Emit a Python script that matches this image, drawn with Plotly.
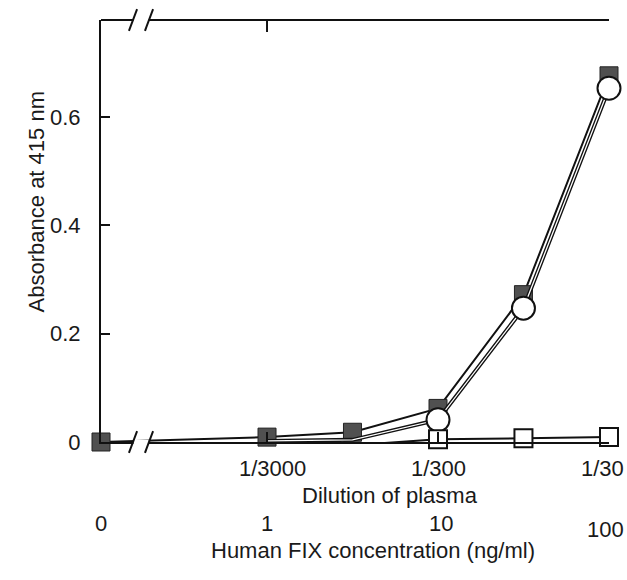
import numpy as np
import plotly.graph_objects as go

# ---- data ----
ZERO_LOG = -0.971                 # log10 position where the "0" concentration is drawn (axis break)
ZERO_POS = 10 ** ZERO_LOG
conc_filled = [0, 1, 3.16, 10, 31.6, 100]
abs_filled = [0.0, 0.009, 0.018, 0.062, 0.272, 0.676]
conc_circle = [1, 3.16, 10, 31.6, 100]
abs_circle = [0.002, 0.004, 0.041, 0.247, 0.653]
conc_open = [1, 3.16, 10, 31.6, 100]
abs_open = [-0.005, -0.006, 0.005, 0.007, 0.009]
conc_ticks = [0, 1, 10, 100]
conc_labels = ["0", "1", "10", "100"]
dil_ticks = [1, 10, 100]
dil_labels = ["1/3000", "1/300", "1/30"]
y_ticks = [0, 0.2, 0.4, 0.6]
y_labels = ["0", "0.2", "0.4", "0.6"]


def xpos(c):
    return ZERO_POS if c == 0 else c


FONT = "Liberation Sans, Arial, sans-serif"
FS = 22
TXT = "#1a1a1a"
INK = "#111"

fig = go.Figure()
# filled squares
fig.add_trace(go.Scatter(
    x=[xpos(c) for c in conc_filled], y=abs_filled, mode="lines+markers",
    line=dict(color=INK, width=2),
    marker=dict(symbol="square", size=18, color="#505050", line=dict(color="#222", width=1)),
    cliponaxis=False, showlegend=False, hoverinfo="skip"))
# circles: double line then markers
fig.add_trace(go.Scatter(
    x=conc_circle, y=abs_circle, mode="lines",
    line=dict(color=INK, width=4), cliponaxis=False, showlegend=False, hoverinfo="skip"))
fig.add_trace(go.Scatter(
    x=conc_circle, y=abs_circle, mode="lines",
    line=dict(color="white", width=1.3), cliponaxis=False, showlegend=False, hoverinfo="skip"))
vis = [i for i, c in enumerate(conc_circle) if c >= 10]
fig.add_trace(go.Scatter(
    x=[conc_circle[i] for i in vis], y=[abs_circle[i] for i in vis], mode="markers",
    marker=dict(symbol="circle", size=23, color="white", line=dict(color=INK, width=2)),
    cliponaxis=False, showlegend=False, hoverinfo="skip"))
# open squares (on top)
fig.add_trace(go.Scatter(
    x=conc_open, y=abs_open, mode="lines+markers",
    line=dict(color=INK, width=2),
    marker=dict(symbol="square", size=18, color="white", line=dict(color=INK, width=2)),
    cliponaxis=False, showlegend=False, hoverinfo="skip"))

fig.update_xaxes(type="log", range=[ZERO_LOG, 2], showgrid=False, zeroline=False,
                 showline=True, linecolor=INK, linewidth=2,
                 ticks="inside", tickvals=dil_ticks, ticklen=10, tickcolor=INK, tickwidth=2,
                 showticklabels=False)
fig.update_yaxes(range=[0, 0.779], showgrid=False, zeroline=False,
                 showline=True, linecolor=INK, linewidth=2,
                 ticks="inside", tickvals=y_ticks, ticktext=y_labels, ticklen=9, tickwidth=2,
                 tickcolor=INK, tickfont=dict(family=FONT, size=FS, color=TXT),
                 ticklabelstandoff=14)

shapes = []
# top line with inward ticks
shapes.append(dict(type="line", xref="paper", yref="paper", x0=0, x1=1, y0=1, y1=1,
                   line=dict(color=INK, width=2)))
for t in dil_ticks[:2]:
    shapes.append(dict(type="line", xref="x", yref="paper", x0=np.log10(t), x1=np.log10(t),
                       y0=1, y1=1 - 12 / 422, line=dict(color=INK, width=2)))
# axis break marks, bottom and top
for yb in (0.0, 1.0):
    shapes.append(dict(type="line", xref="paper", yref="paper", x0=0.064, x1=0.094,
                       y0=yb, y1=yb, line=dict(color="white", width=4)))
    for xs in (0.063, 0.0945):
        shapes.append(dict(type="line", xref="paper", yref="paper", x0=xs - 0.008, x1=xs + 0.008,
                           y0=yb - 0.026, y1=yb + 0.026, line=dict(color=INK, width=2)))
fig.update_layout(shapes=shapes)

ann = []
shift_dil = {1: 5, 10: 0, 100: -7}
for t, lab in zip(dil_ticks, dil_labels):
    ann.append(dict(x=np.log10(t), y=-0.097, xref="x", yref="paper", text=lab, showarrow=False,
                    xshift=shift_dil[t], font=dict(family=FONT, size=FS, color=TXT)))
ann.append(dict(x=0.569, y=-0.161, xref="paper", yref="paper", text="Dilution of plasma",
                showarrow=False, font=dict(family=FONT, size=FS, color=TXT)))
shift_conc = {0: 0, 1: 0, 10: 3, 100: -4}
for t, lab in zip(conc_ticks, conc_labels):
    ann.append(dict(x=np.log10(xpos(t)), y=-0.2275 if t != 100 else -0.242, xref="x", yref="paper",
                    text=lab, showarrow=False, xshift=shift_conc[t],
                    font=dict(family=FONT, size=FS, color=TXT)))
ann.append(dict(x=0.535, y=-0.291, xref="paper", yref="paper",
                text="Human FIX concentration (ng/ml)", showarrow=False,
                font=dict(family=FONT, size=FS, color=TXT)))
ann.append(dict(x=-0.1555, y=0.569, xref="paper", yref="paper", text="Absorbance at 415 nm",
                textangle=-90, showarrow=False, font=dict(family=FONT, size=FS, color=TXT)))
fig.update_layout(annotations=ann)

fig.update_layout(width=627, height=580, margin=dict(l=101, r=18, t=20, b=138),
                  plot_bgcolor="white", paper_bgcolor="white", hovermode=False)
# remove the page's default body margin so the figure fills the window exactly
fig.write_html("out.html", config={"displayModeBar": False, "staticPlot": True},
               post_script="document.body.style.margin='0';document.body.style.overflow='hidden';")
